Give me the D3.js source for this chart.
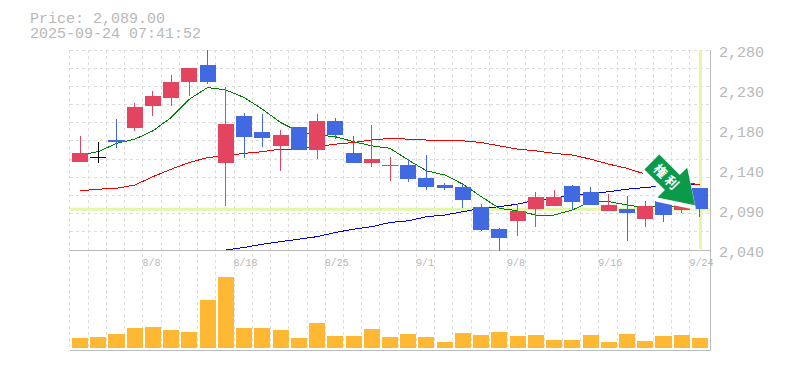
<!DOCTYPE html>
<html>
<head>
<meta charset="utf-8">
<script src="https://cdn.jsdelivr.net/npm/d3@7"></script>
<style>
  html, body { margin: 0; padding: 0; background: #fff; }
  text { font-family: "Liberation Mono", monospace; fill: #b8b8b8; }
</style>
</head>
<body>
<div id="chart"></div>
<script>
const dates = ['8/4','8/5','8/6','8/7','8/8','8/12','8/13','8/14','8/15','8/18','8/19','8/20','8/21','8/22','8/25','8/26','8/27','8/28','8/29','9/1','9/2','9/3','9/4','9/5','9/8','9/9','9/10','9/11','9/12','9/16','9/17','9/18','9/19','9/22','9/24'];
const opens  = [2146,2152,2172,2186,2213,2222,2242,2262,2144,2201,2182,2165,2188,2160,2195,2156,2144,2142,2142,2126,2118,2116,2092,2065,2075,2089,2093,2117,2110,2087,2089,2077,2099,2088,2114];
const closes = [2156,2152,2170,2212,2225,2242,2258,2242,2191,2176,2174,2178,2160,2195,2178,2144,2149,2142,2125,2116,2114,2100,2064,2054,2087,2104,2104,2098,2094,2094,2084,2093,2082,2094,2089];
const highs  = [2177,2170,2197,2216,2231,2250,2258,2280,2236,2204,2203,2184,2188,2203,2198,2177,2190,2152,2149,2154,2120,2119,2095,2066,2095,2110,2112,2118,2116,2107,2105,2099,2099,2096,2114];
const lows   = [2146,2144,2162,2183,2201,2213,2225,2239,2093,2150,2164,2135,2160,2149,2173,2144,2140,2123,2122,2112,2112,2090,2063,2039,2057,2068,2093,2088,2094,2087,2051,2068,2074,2084,2080];
const volumes = [10,11,14,20,21,18,16,48,71,20,20,18,10,25,12,12,19,11,14,11,6,15,13,16,12,13,8,8,13,6,14,7,12,13,10];
const maShort = [2154,2158,2168,2173,2183,2199,2221,2235,2232,2223,2209,2193,2182,2178,2176,2170,2165,2162,2148,2135,2130,2119,2104,2090,2087,2082,2082,2088,2098,2098,2094,2091,2093,2092,2090];
const maMid   = [2111,2113,2114,2118,2128,2137,2145,2151,2153,2156,2158,2161,2161,2164,2167,2169,2172,2174,2173,2172,2172,2171,2169,2165,2161,2159,2156,2154,2149,2143,2138,2131,2126,2122,2118];
const maLong  = [null,null,null,null,null,null,null,null,2040,2043,2047,2050,2053,2056,2061,2065,2068,2073,2075,2080,2082,2086,2090,2092,2095,2100,2102,2106,2107,2110,2113,2115,2117,2118,2119];
const priceTicks = [2280,2232,2184,2136,2088,2040];
const dateLabels = ['8/8','8/18','8/25','9/1','9/8','9/16','9/24'];
const lastPrice = 2089;
const titleLines = ['Price: 2,089.00','2025-09-24 07:41:52'];
const arrowLabel = '権利';

const width = 785, height = 370;
const margin = { top: 50, right: 75, bottom: 20, left: 70 };
const priceBottom = 250, volumeTop = 277, volumeBottom = 348, axisBottom = 350;

const svg = d3.select('#chart').append('svg')
  .attr('width', width)
  .attr('height', height)
  .style('display', 'block');

const x = d3.scaleBand().domain(dates).range([margin.left, 710]).paddingInner(0.12).paddingOuter(0.11);
const y = d3.scaleLinear().domain([2040, 2280]).range([priceBottom, margin.top]);
const yVol = d3.scaleLinear().domain([0, d3.max(volumes)]).range([volumeBottom, volumeTop]);
const step = x.step();
const slot = d => x(d) - x.paddingOuter() * step;   // left edge of a date's slot
const mid = d => x(d) + x.bandwidth() / 2;

// grid
const gridY = d3.range(12).map(i => margin.top + i * (priceBottom - margin.top) / 11);
const grid = svg.append('g').attr('stroke', '#ddd').attr('stroke-dasharray', '3,3').attr('shape-rendering', 'crispEdges');
grid.selectAll('.v').data(dates).join('line').attr('class', 'v')
  .attr('x1', d => Math.floor(slot(d)) + 0.5).attr('x2', d => Math.floor(slot(d)) + 0.5)
  .attr('y1', margin.top).attr('y2', axisBottom);
grid.selectAll('.h').data(gridY).join('line').attr('class', 'h')
  .attr('x1', margin.left).attr('x2', 710)
  .attr('y1', d => Math.floor(d) + 0.5).attr('y2', d => Math.floor(d) + 0.5);

// last price / last date highlight
const lastDate = dates[dates.length - 1];
svg.append('line').attr('x1', margin.left).attr('x2', 710)
  .attr('y1', y(lastPrice)).attr('y2', y(lastPrice))
  .attr('stroke', '#e4f7a8').attr('stroke-width', 3);
svg.append('line').attr('x1', mid(lastDate) + 0.5).attr('x2', mid(lastDate) + 0.5)
  .attr('y1', margin.top).attr('y2', priceBottom - 1)
  .attr('stroke', '#e4f7a8').attr('stroke-width', 3);

// axis frame
const frame = svg.append('g').attr('stroke', '#bbb').attr('shape-rendering', 'crispEdges');
frame.append('line').attr('x1', margin.left).attr('x2', 710.5).attr('y1', priceBottom + 0.5).attr('y2', priceBottom + 0.5);
frame.append('line').attr('x1', margin.left).attr('x2', 710.5).attr('y1', axisBottom + 0.5).attr('y2', axisBottom + 0.5);
frame.append('line').attr('x1', 710.5).attr('x2', 710.5).attr('y1', margin.top).attr('y2', axisBottom + 0.5);

// moving averages
const addLine = (vals, color) => svg.append('path')
  .datum(vals)
  .attr('fill', 'none')
  .attr('stroke', color)
  .attr('stroke-width', 1)
  .attr('shape-rendering', 'crispEdges')
  .attr('d', d3.line()
    .defined(d => d !== null)
    .x((d, i) => mid(dates[i]))
    .y(d => y(d)));
addLine(maLong, '#0000f0');
addLine(maMid, '#f00000');
addLine(maShort, '#008000');

// candles
const candleColor = i => closes[i] === opens[i] ? (i === 1 ? '#000' : '#e34560') : closes[i] > opens[i] ? '#e34560' : '#4169e1';
const candles = svg.append('g').attr('shape-rendering', 'crispEdges');
candles.selectAll('.wick').data(dates).join('line').attr('class', 'wick')
  .attr('x1', d => Math.floor(mid(d)) + 0.5).attr('x2', d => Math.floor(mid(d)) + 0.5)
  .attr('y1', (d, i) => y(highs[i])).attr('y2', (d, i) => y(lows[i]))
  .attr('stroke', (d, i) => candleColor(i));
candles.selectAll('.body').data(dates).join('rect').attr('class', 'body')
  .attr('x', d => x(d)).attr('width', x.bandwidth())
  .attr('y', (d, i) => y(Math.max(opens[i], closes[i])))
  .attr('height', (d, i) => Math.max(1, Math.abs(y(opens[i]) - y(closes[i]))))
  .attr('fill', (d, i) => candleColor(i));

// volume
svg.append('g').selectAll('rect').data(dates).join('rect')
  .attr('x', d => x(d)).attr('width', x.bandwidth())
  .attr('y', (d, i) => yVol(volumes[i]))
  .attr('height', (d, i) => volumeBottom - yVol(volumes[i]))
  .attr('fill', '#ffb833')
  .attr('shape-rendering', 'crispEdges');

// labels
svg.append('g').selectAll('text').data(priceTicks).join('text')
  .attr('x', 719).attr('y', d => y(d) + 7)
  .attr('font-size', 15)
  .text(d => d3.format(',')(Math.round(d / 10) * 10));
svg.append('g').selectAll('text').data(dateLabels).join('text')
  .attr('x', d => slot(d) - 0.5).attr('y', 266)
  .attr('font-size', 10)
  .text(d => d);
svg.append('g').selectAll('text').data(titleLines).join('text')
  .attr('x', 30).attr('y', (d, i) => 23 + i * 15)
  .attr('font-size', 15)
  .text(d => d);

// arrow sign pointing at the last candle
const arrowShape = 'M0,0 L-32,-21 L-32,-10.5 L-61,-10.5 L-61,10.5 L-32,10.5 L-32,21 Z';
const arrow = svg.append('g')
  .attr('transform', `translate(${mid(lastDate) - 5},${y(lastPrice) - 4}) rotate(45)`);
arrow.append('path')
  .attr('d', arrowShape)
  .attr('transform', 'translate(1.5,2.5)')
  .attr('fill', '#fff')
  .attr('stroke', '#fff')
  .attr('stroke-width', 3)
  .attr('stroke-linejoin', 'round');
arrow.append('path')
  .attr('d', arrowShape)
  .attr('fill', '#0a9a4a');
arrow.selectAll('text').data(Array.from(arrowLabel)).join('text')
  .attr('x', (d, i) => -48.5 + i * 16)
  .attr('y', 5)
  .attr('text-anchor', 'middle')
  .attr('font-size', 13)
  .attr('font-weight', 700)
  .style('font-family', '"Noto Sans CJK JP"')
  .style('fill', '#fff')
  .text(d => d);
</script>
</body>
</html>
